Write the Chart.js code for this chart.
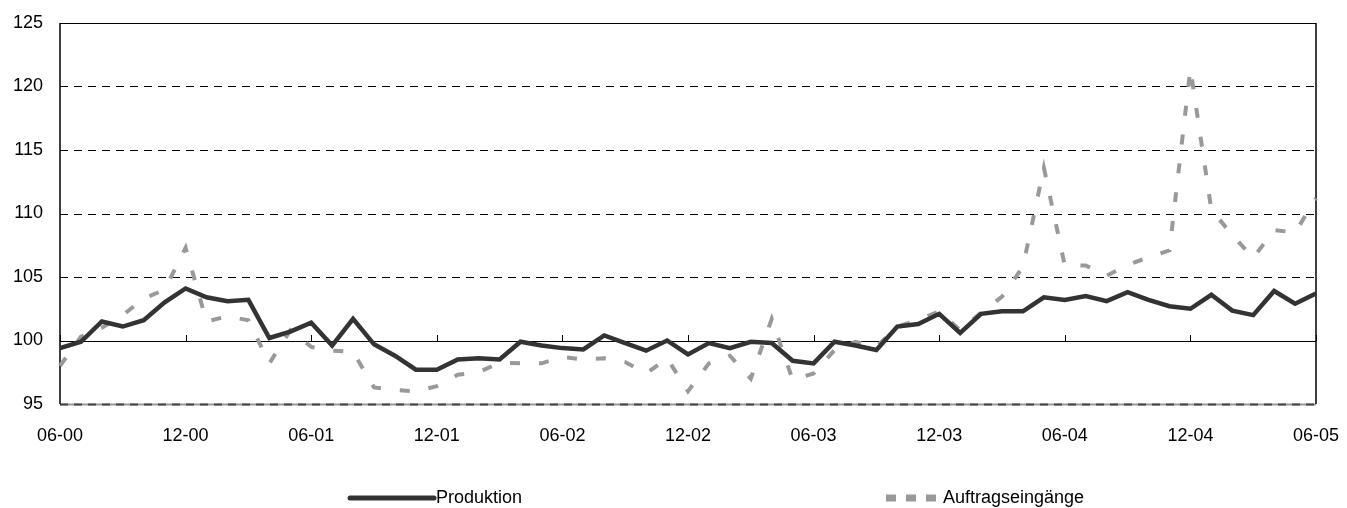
<!DOCTYPE html>
<html>
<head>
<meta charset="utf-8">
<script src="https://cdn.jsdelivr.net/npm/chart.js@4"></script>
<style>
  body { margin: 0; background: #fff; }
  #wrap { width: 1347px; height: 508px; position: relative; }
</style>
</head>
<body>
<div id="wrap"><canvas id="chart"></canvas></div>
<script>
// Monthly data, June 2000 to June 2005
const months = [
  "06-00", "07-00", "08-00", "09-00", "10-00", "11-00", "12-00",
  "01-01", "02-01", "03-01", "04-01", "05-01", "06-01", "07-01", "08-01", "09-01", "10-01", "11-01", "12-01",
  "01-02", "02-02", "03-02", "04-02", "05-02", "06-02", "07-02", "08-02", "09-02", "10-02", "11-02", "12-02",
  "01-03", "02-03", "03-03", "04-03", "05-03", "06-03", "07-03", "08-03", "09-03", "10-03", "11-03", "12-03",
  "01-04", "02-04", "03-04", "04-04", "05-04", "06-04", "07-04", "08-04", "09-04", "10-04", "11-04", "12-04",
  "01-05", "02-05", "03-05", "04-05", "05-05", "06-05"
];

const produktion = [
  99.4, 99.9, 101.5, 101.1, 101.6, 103.0, 104.1,
  103.4, 103.1, 103.2, 100.2, 100.7, 101.4, 99.6, 101.7, 99.7, 98.8, 97.7, 97.7,
  98.5, 98.6, 98.5, 99.9, 99.6, 99.4, 99.3, 100.4, 99.8, 99.2, 100.0, 98.9,
  99.8, 99.4, 99.9, 99.8, 98.4, 98.2, 99.9, 99.6, 99.25, 101.1, 101.3, 102.1,
  100.6, 102.1, 102.3, 102.3, 103.4, 103.2, 103.5, 103.1, 103.8, 103.2, 102.7, 102.5,
  103.6, 102.35, 102.0, 103.9, 102.9, 103.7
];

const auftragseingaenge = [
  98.0, 100.3, 101.0, 102.0, 103.3, 104.0, 107.3,
  101.5, 101.9, 101.6, 98.2, 100.8, 99.5, 99.2, 99.1, 96.3, 96.1, 96.0, 96.4,
  97.3, 97.5, 98.25, 98.2, 98.2, 98.7, 98.5, 98.6, 98.3, 97.4, 98.6, 96.0,
  98.2, 98.8, 97.0, 101.7, 96.9, 97.4, 99.25, 99.9, 99.5, 101.1, 101.6, 102.3,
  100.8, 102.2, 103.45, 105.8, 113.6, 105.9, 105.9, 105.1, 105.95, 106.55, 107.1, 121.4,
  110.3, 108.3, 106.5, 108.7, 108.5, 111.2
];

const yTicks = { min: 95, max: 125, step: 5 };
const labelEvery = 6;

const FONT = '"Liberation Sans", Arial, sans-serif';

// grid lines, plot frame and the small ticks on the 100 line
const framePlugin = {
  id: 'frame',
  beforeDatasetsDraw(chart) {
    const { ctx, chartArea: a, scales: { x, y } } = chart;
    ctx.save();
    y.ticks.forEach(t => {
      const py = Math.round(y.getPixelForValue(t.value)) + 0.5;
      ctx.beginPath();
      if (t.value === yTicks.min) {
        ctx.lineWidth = 2;
        ctx.setLineDash([]);
        ctx.strokeStyle = '#999';
        ctx.moveTo(a.left, py); ctx.lineTo(a.right, py); ctx.stroke();
        ctx.beginPath();
        ctx.strokeStyle = '#444';
        ctx.setLineDash([8, 6]);
      } else if (t.value === 100 || t.value === yTicks.max) {
        ctx.lineWidth = 1.2;
        ctx.setLineDash([]);
        ctx.strokeStyle = '#000';
      } else {
        ctx.lineWidth = 1;
        ctx.setLineDash([8, 6]);
        ctx.strokeStyle = '#000';
      }
      ctx.moveTo(a.left, py); ctx.lineTo(a.right, py); ctx.stroke();
    });
    ctx.setLineDash([]);
    ctx.strokeStyle = '#000';
    ctx.lineWidth = 1.5;
    ctx.beginPath();
    ctx.moveTo(a.left, a.top); ctx.lineTo(a.left, a.bottom);
    ctx.moveTo(a.right, a.top); ctx.lineTo(a.right, a.bottom);
    ctx.stroke();
    // tick marks sitting on top of the 100 line
    const p100 = Math.round(y.getPixelForValue(100));
    ctx.lineWidth = 1;
    ctx.beginPath();
    months.forEach((m, i) => {
      if (i % labelEvery !== 0) return;
      const px = Math.round(x.getPixelForValue(i)) + 0.5;
      ctx.moveTo(px, p100 - 6); ctx.lineTo(px, p100);
    });
    ctx.stroke();
    ctx.restore();
  }
};

// legend row at the bottom
const legendPlugin = {
  id: 'legendRow',
  afterDraw(chart) {
    const { ctx } = chart;
    const ds = chart.data.datasets;
    const rowY = 498;
    ctx.save();
    ctx.font = '18px ' + FONT;
    ctx.fillStyle = '#000';
    ctx.textBaseline = 'middle';
    ctx.textAlign = 'left';

    ctx.strokeStyle = ds[0].borderColor;
    ctx.lineWidth = 5;
    ctx.lineCap = 'round';
    ctx.beginPath();
    ctx.moveTo(350, rowY); ctx.lineTo(434, rowY);
    ctx.stroke();
    ctx.fillText(ds[0].label, 436, rowY);

    ctx.lineCap = 'butt';
    ctx.strokeStyle = ds[1].borderColor;
    ctx.lineWidth = 7;
    ctx.setLineDash([10, 10]);
    ctx.beginPath();
    ctx.moveTo(886, rowY); ctx.lineTo(936, rowY);
    ctx.stroke();
    ctx.fillText(ds[1].label, 943, rowY);
    ctx.restore();
  }
};

new Chart(document.getElementById('chart'), {
  type: 'line',
  data: {
    labels: months,
    datasets: [
      {
        label: 'Produktion',
        data: produktion,
        borderColor: '#333333',
        borderWidth: 4.5,
        pointRadius: 0,
        tension: 0,
        order: 1
      },
      {
        label: 'Auftragseingänge',
        data: auftragseingaenge,
        borderColor: '#999999',
        borderWidth: 4,
        borderDash: [10, 19],
        pointRadius: 0,
        tension: 0,
        order: 2
      }
    ]
  },
  options: {
    responsive: true,
    maintainAspectRatio: false,
    animation: false,
    layout: { padding: { left: 0, right: 31, top: 23, bottom: 0 } },
    plugins: {
      legend: { display: false },
      tooltip: { enabled: false }
    },
    scales: {
      x: {
        type: 'category',
        offset: false,
        grid: { display: false, drawTicks: false },
        border: { display: false },
        afterFit(scale) {
          scale.height = 104;
          scale.paddingLeft = 0;
          scale.paddingRight = 0;
        },
        ticks: {
          autoSkip: false,
          maxRotation: 0,
          padding: 21,
          color: '#000',
          font: { family: FONT, size: 18 },
          callback(val, i) { return i % labelEvery === 0 ? this.getLabelForValue(val) : null; }
        }
      },
      y: {
        min: yTicks.min,
        max: yTicks.max,
        grid: { display: false, drawTicks: false },
        border: { display: false },
        afterFit(scale) {
          scale.width = 60;
          scale.paddingTop = 0;
          scale.paddingBottom = 0;
        },
        ticks: {
          stepSize: yTicks.step,
          padding: 17,
          color: '#000',
          font: { family: FONT, size: 18 }
        }
      }
    }
  },
  plugins: [framePlugin, legendPlugin]
});
</script>
</body>
</html>
